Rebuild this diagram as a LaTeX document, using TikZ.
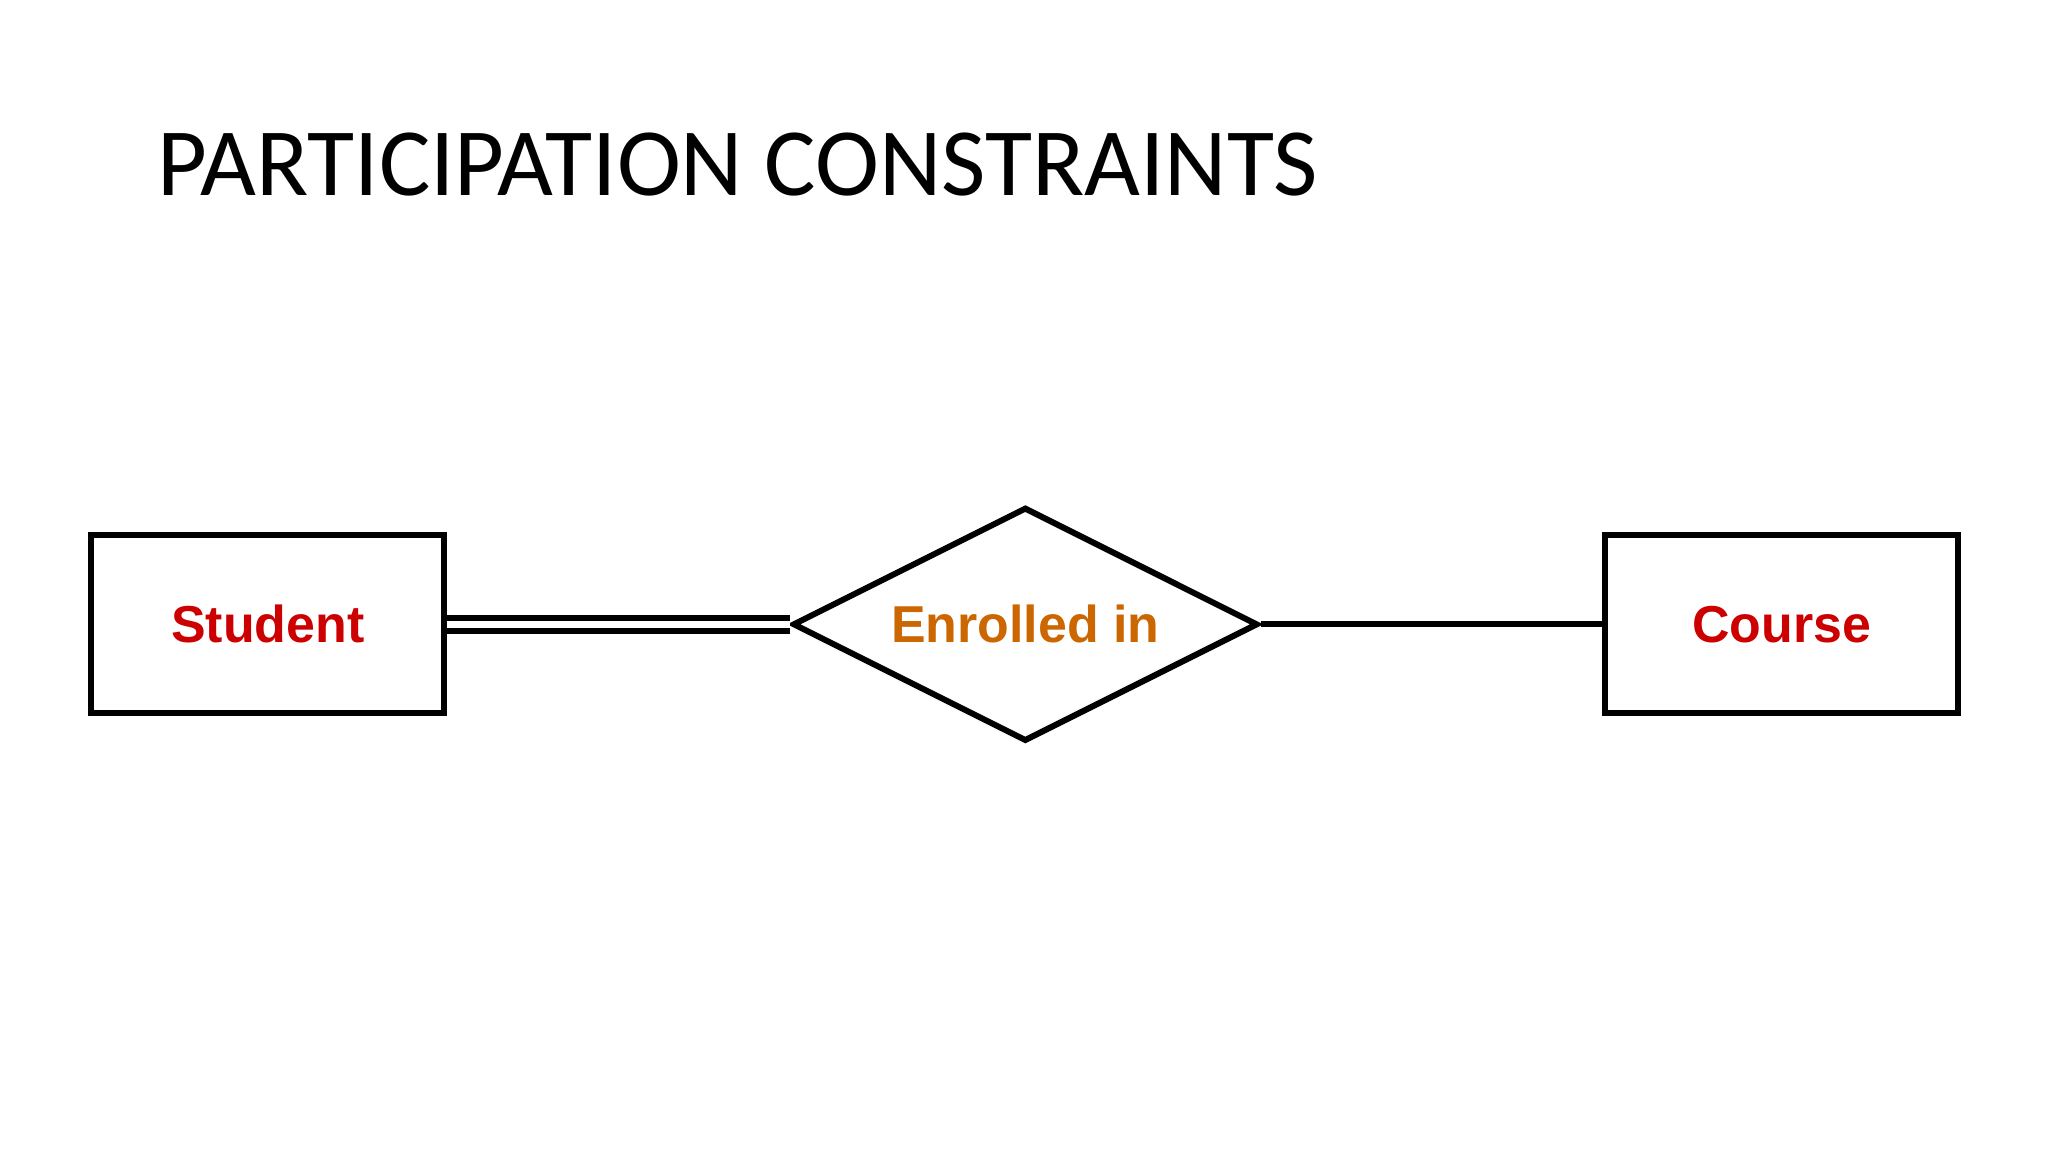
\documentclass[tikz,border=0pt]{standalone}
\usepackage{fontspec}
\setmainfont{Carlito}
\newfontfamily\arialf{Liberation Sans}
\usetikzlibrary{shapes.geometric}
\definecolor{entred}{RGB}{204,0,0}
\definecolor{relorange}{RGB}{204,102,0}
\tikzset{
  entity/.style={draw, line width=1.3pt, minimum width=2.70cm, minimum height=1.36cm, inner sep=0pt, font=\arialf\bfseries\fontsize{11.3}{13}\selectfont, text=entred},
  relation/.style={draw, diamond, line width=1.3pt, minimum width=3.56cm, minimum height=1.79cm, aspect=2, inner sep=0pt, font=\arialf\bfseries\fontsize{11.3}{13}\selectfont, text=relorange},
  conn/.style={line width=1.3pt}
}
\begin{document}
\begin{tikzpicture}[x=0.01cm,y=-0.01cm]
\useasboundingbox[fill=white] (0,0) rectangle (1568,882);
\node[anchor=base west, inner sep=0pt, font=\fontsize{21}{25}\selectfont] (title) at (120,150) {PARTICIPATION CONSTRAINTS};
\node[entity] (student) at (205,478) {Student};
\node[relation] (enr) at (785,478) {Enrolled in};
\node[entity] (course) at (1364,478) {Course};
\draw[conn, double, double distance=0.05cm] (student) -- (enr);
\draw[conn] (enr) -- (course);
\end{tikzpicture}
\end{document}
